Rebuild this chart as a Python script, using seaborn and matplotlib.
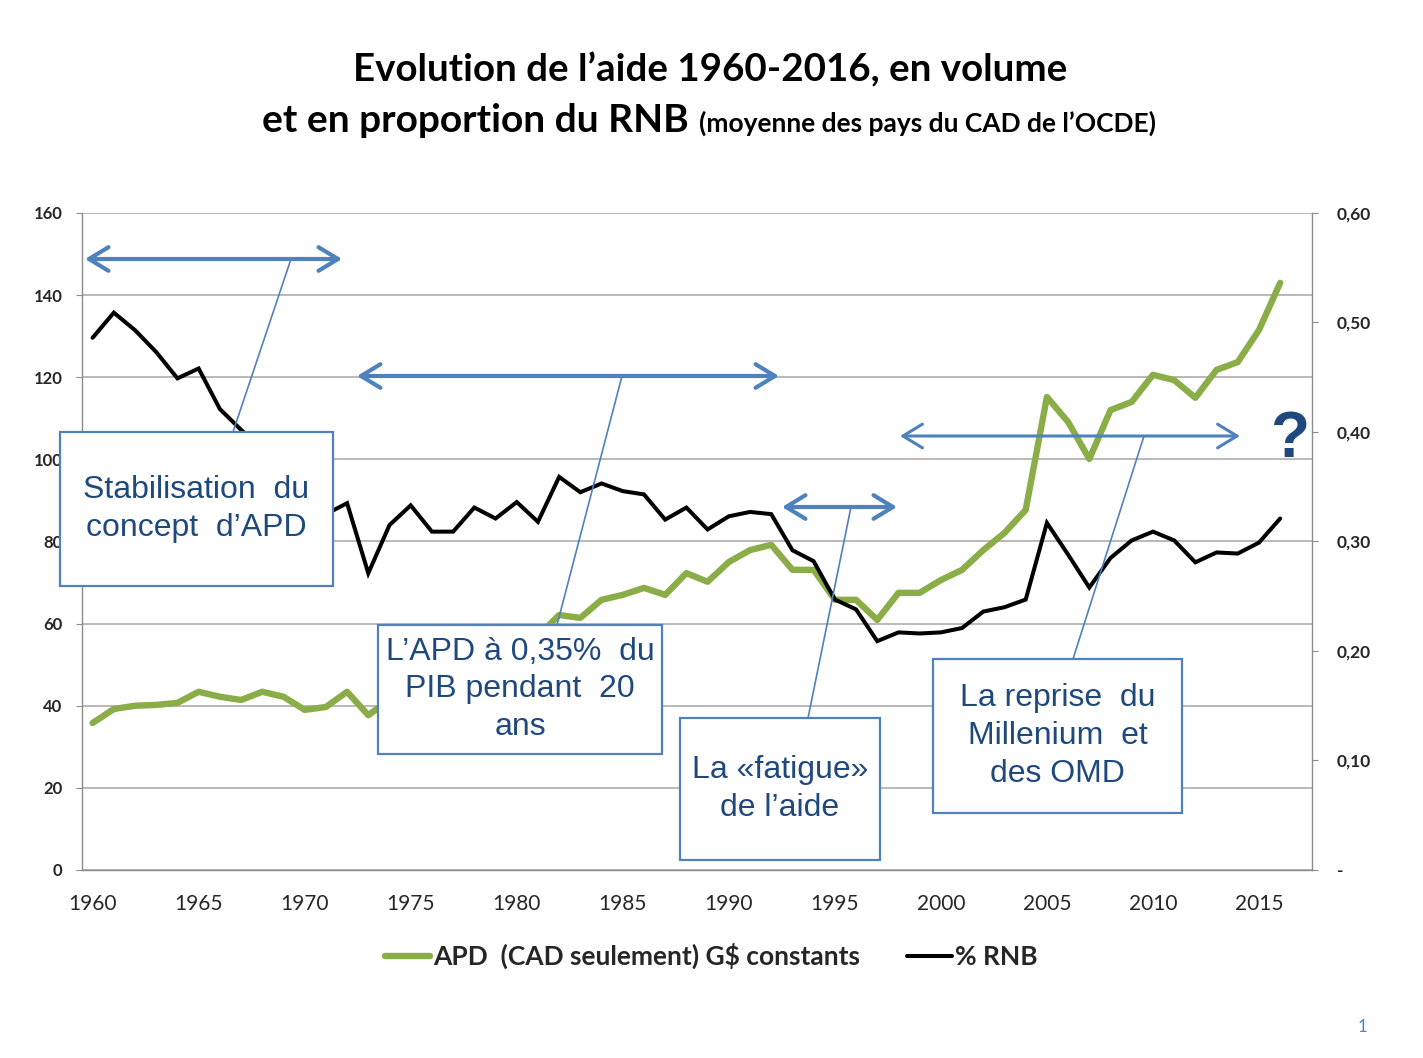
import seaborn as sns
import matplotlib.pyplot as plt
import matplotlib.transforms as mtransforms
from matplotlib.patches import Rectangle, FancyArrowPatch
from matplotlib.lines import Line2D
from matplotlib.ticker import FuncFormatter, MultipleLocator
import pandas as pd

# donnees
years = list(range(1960, 2017))
apd = [35.8, 39.2, 40.0, 40.2, 40.7, 43.4, 42.2, 41.4, 43.4, 42.2,
       39.0, 39.7, 43.4, 37.7, 41.5, 45.0, 45.0, 46.0, 51.0, 53.0,
       55.5, 57.0, 62.1, 61.4, 65.8, 67.0, 68.7, 67.0, 72.3, 70.2,
       75.0, 77.9, 79.2, 73.1, 73.1, 65.8, 65.8, 60.9, 67.5, 67.5,
       70.6, 73.1, 77.9, 82.1, 87.7, 115.2, 109.1, 100.1, 112.0, 114.0,
       120.6, 119.3, 115.0, 121.8, 123.7, 131.5, 143.0]
rnb = [0.486, 0.509, 0.493, 0.473, 0.449, 0.458, 0.421, 0.402, 0.385, 0.365,
       0.335, 0.325, 0.335, 0.271, 0.315, 0.333, 0.309, 0.309, 0.331, 0.321,
       0.336, 0.318, 0.359, 0.345, 0.353, 0.346, 0.343, 0.320, 0.331, 0.311,
       0.323, 0.327, 0.325, 0.292, 0.282, 0.247, 0.238, 0.209, 0.217, 0.216,
       0.217, 0.221, 0.236, 0.240, 0.247, 0.317, 0.288, 0.258, 0.285, 0.301,
       0.309, 0.301, 0.281, 0.290, 0.289, 0.299, 0.321]

label_apd = "APD  (CAD seulement) G$ constants"
label_rnb = "% RNB"

df = pd.DataFrame({"annee": years, "apd": apd, "rnb": rnb})

sns.set_style("white")
plt.rcParams['font.family'] = ['Lato', 'DejaVu Sans']

W, H = 1423, 1058
fig = plt.figure(figsize=(W / 100, H / 100), dpi=100)
ax = fig.add_axes([82 / W, 1 - 870 / H, (1312 - 82) / W, (870 - 213) / H])
ax2 = ax.twinx()

vert = '#8AAD47'
bleu = '#4F81BD'
bleu_fonce = '#1F497D'
gris = '#A6A6A6'

sns.lineplot(data=df, x="annee", y="apd", ax=ax, color=vert, lw=4.6,
             solid_capstyle='round', solid_joinstyle='round', label=label_apd, legend=False)
sns.lineplot(data=df, x="annee", y="rnb", ax=ax2, color='black', lw=2.9,
             solid_capstyle='round', solid_joinstyle='miter', label=label_rnb, legend=False)

ax.set_xlim(1959.5, 2017.5)
ax.set_ylim(0, 160)
ax2.set_ylim(0, 0.6)
ax.set_xlabel("")
ax.set_ylabel("")
ax2.set_ylabel("")

ax.yaxis.set_major_locator(MultipleLocator(20))
ax2.yaxis.set_major_locator(MultipleLocator(0.1))
ax2.yaxis.set_major_formatter(FuncFormatter(lambda v, p: "-" if abs(v) < 1e-9 else f"{v:.2f}".replace(".", ",")))
ax.set_xticks(list(range(1960, 2017, 5)))
ax.set_xticks([y - 0.5 for y in range(1960, 2019)], minor=True)

ax.grid(axis='y', color=gris, lw=1.1)
ax.set_axisbelow(True)
for a in (ax, ax2):
    for s in a.spines.values():
        s.set_color('#8C8C8C')
        s.set_linewidth(1.0)
    a.spines['top'].set_visible(False)
ax.spines['right'].set_visible(False)
ax2.spines['left'].set_visible(False)
ax2.spines['bottom'].set_visible(False)

ax.tick_params(axis='x', which='major', length=0, pad=17, labelsize=15)
ax.tick_params(axis='x', which='minor', length=5, color='#8C8C8C', width=1, direction='out')
ax.tick_params(axis='y', length=4, color='#8C8C8C', direction='out', pad=10, labelsize=12)
ax2.tick_params(axis='y', length=4, color='#8C8C8C', direction='out', pad=14, labelsize=12.5)
for lab in ax.get_yticklabels() + ax2.get_yticklabels():
    lab.set_fontweight('bold')

# legende
fig.legend(handles=[Line2D([], [], color=vert, lw=4.6, solid_capstyle='round'),
                    Line2D([], [], color='black', lw=2.9)],
           labels=[label_apd, label_rnb], loc='center', ncol=2,
           bbox_to_anchor=(0.5, 1 - 956 / H), frameon=False,
           prop={'weight': 'bold', 'size': 19}, handlelength=1.7,
           handletextpad=0.1, columnspacing=1.8)

# repere en pixels (origine en haut a gauche)
px = mtransforms.Affine2D().scale(1 / W, -1 / H).translate(0, 1) + fig.transFigure

# titre
fig.text(710, 81, "Evolution de l\u2019aide 1960-2016, en volume", transform=px,
         ha='center', va='baseline', fontsize=27.7, fontweight='bold', color='black')
t_a = fig.text(0, 132, "et en proportion du RNB ", transform=px,
               ha='left', va='baseline', fontsize=28, fontweight='bold', color='black')
t_b = fig.text(0, 132, "(moyenne des pays du CAD de l\u2019OCDE)", transform=px,
               ha='left', va='baseline', fontsize=19, fontweight='bold', color='black')
fig.canvas.draw()
r = fig.canvas.get_renderer()
wa = t_a.get_window_extent(r).width
wb = t_b.get_window_extent(r).width
x0 = 709 - (wa + wb) / 2
t_a.set_x(x0)
t_b.set_x(x0 + wa)

# fleches
for (xa, xb, y, lw) in [(85, 342, 259, 3.0), (357, 779, 376, 3.0),
                        (782, 897, 507, 3.0), (900, 1240, 436, 2.2)]:
    fig.add_artist(FancyArrowPatch((xa, y), (xb, y), transform=px,
                                   arrowstyle='<->,head_length=1.4,head_width=0.85',
                                   mutation_scale=10, lw=lw, color=bleu,
                                   shrinkA=0, shrinkB=0, capstyle='round', joinstyle='round'))

# traits de rappel
for (xa, ya, xb, yb) in [(291, 259, 233, 432), (622, 376, 557, 625),
                         (851, 507, 808, 718), (1144, 436, 1073, 659)]:
    fig.add_artist(Line2D([xa, xb], [ya, yb], transform=px, color=bleu, lw=1.2))

# encadres
boites = [
    (60, 432, 273, 154, "Stabilisation  du\nconcept  d\u2019APD"),
    (378, 625, 284, 129, "L\u2019APD \u00e0 0,35%  du\nPIB pendant  20\nans"),
    (680, 718, 200, 142, "La \u00abfatigue\u00bb\nde l\u2019aide"),
    (933, 659, 249, 154, "La reprise  du\nMillenium  et\ndes OMD"),
]
for (bx, by, bw, bh, txt) in boites:
    fig.add_artist(Rectangle((bx, by), bw, bh, transform=px, fc='white',
                             ec=bleu, lw=1.6, zorder=3))
    fig.text(bx + bw / 2, by + bh / 2, txt, transform=px, ha='center', va='center',
             fontsize=23, color=bleu_fonce, family='Liberation Sans',
             linespacing=1.33, zorder=4)

fig.text(1290, 440, "?", transform=px, ha='center', va='center', fontsize=46,
         fontweight='bold', color=bleu_fonce, family='Liberation Sans')
fig.text(1362, 1027, "1", transform=px, ha='center', va='center', fontsize=12,
         color=bleu)

fig.savefig("out.png", dpi=100)
